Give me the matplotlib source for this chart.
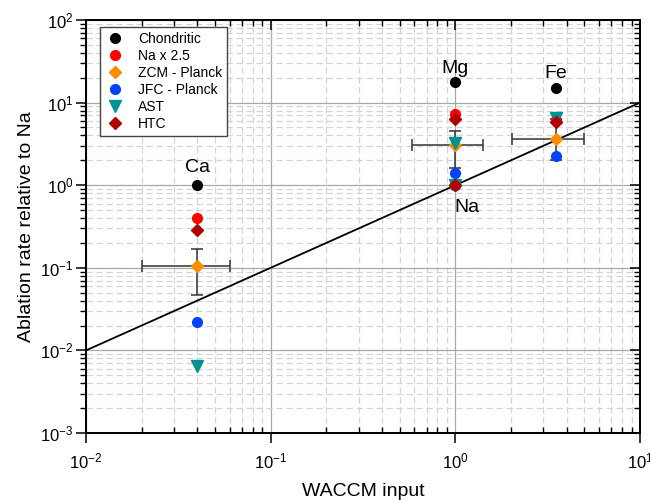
import matplotlib
matplotlib.use("Agg")
import matplotlib.pyplot as plt
import numpy as np
from matplotlib.ticker import LogLocator, NullFormatter, FixedLocator

plt.rcParams['font.family'] = ['Liberation Sans', 'DejaVu Sans']
plt.rcParams['mathtext.fontset'] = 'custom'
plt.rcParams['mathtext.rm'] = 'Liberation Sans'
plt.rcParams['mathtext.it'] = 'Liberation Sans:italic'
plt.rcParams['mathtext.bf'] = 'Liberation Sans:bold'

# ---- data ----
elements = ['Na', 'Mg', 'Fe', 'Ca']
waccm = [1.0, 1.0, 3.5, 0.04]
chondritic = [1.0, 17.9, 15.1, 1.0]
na_x25 = [1.0, 7.3, 6.2, 0.40]
zcm = [1.0, 3.04, 3.66, 0.106]
jfc = [1.0, 1.42, 2.28, 0.0223]
ast = [1.0, 3.27, 6.5, 0.0065]
htc = [1.0, 6.4, 5.8, 0.29]

# ZCM error ranges (Mg, Fe, Ca)
err_x = [1.0, 3.5, 0.04]
err_y = [3.04, 3.66, 0.106]
err_ylo = [1.6, 2.02, 0.047]
err_yhi = [4.57, 6.3, 0.167]
err_xlo = [0.58, 2.02, 0.02]
err_xhi = [1.42, 4.99, 0.06]

label_x = [1.16, 1.0, 3.5, 0.04]
label_y = [0.473, 22.6, 20.0, 1.46]

xticks = [0.01, 0.1, 1, 10]
xticklabels = [r'$10^{-2}$', r'$10^{-1}$', r'$10^{0}$', r'$10^{1}$']
yticks = [0.001, 0.01, 0.1, 1, 10, 100]
yticklabels = [r'$10^{-3}$', r'$10^{-2}$', r'$10^{-1}$', r'$10^{0}$', r'$10^{1}$', r'$10^{2}$']

fig = plt.figure(figsize=(6.5, 5.01), dpi=100)
ax = fig.add_axes([86/650, 68/501, 554/650, 413/501])
ax.set_xscale('log')
ax.set_yscale('log')
ax.set_xlim(0.01, 10)
ax.set_ylim(0.001, 100)

ax.grid(True, which='major', color='#a8a8a8', linewidth=0.9, linestyle='-', zorder=0)
ax.grid(True, which='minor', color='#d4d4d4', linewidth=0.9, linestyle=(0, (5, 3)), zorder=0)
ax.set_axisbelow(True)

# 1:1 line
line_x = np.array([0.01, 10])
ax.plot(line_x, line_x, color='black', linewidth=1.3, zorder=2)

# error bars
ex = np.array(err_x); ey = np.array(err_y)
ax.errorbar(ex, ey,
            yerr=[ey - np.array(err_ylo), np.array(err_yhi) - ey],
            xerr=[ex - np.array(err_xlo), np.array(err_xhi) - ex],
            fmt='none', ecolor='#333333', elinewidth=1.1, capsize=4, capthick=1.1, zorder=3)

ms = 7
ax.plot(waccm, chondritic, 'o', color='black', ms=ms, ls='none', label='Chondritic', zorder=4)
ax.plot(waccm, na_x25, 'o', color='#ff0000', ms=ms, ls='none', label='Na x 2.5', zorder=4)
ax.plot(waccm, zcm, 'D', color='#ff8c00', ms=ms-0.8, ls='none', label='ZCM - Planck', zorder=4)
ax.plot(waccm, jfc, 'o', color='#0042ff', ms=ms, ls='none', label='JFC - Planck', zorder=4)
ax.plot(waccm, ast, 'v', color='#009292', ms=ms+1, ls='none', label='AST', zorder=4)
ax.plot(waccm, htc, 'D', color='#b00000', ms=ms-0.8, ls='none', label='HTC', zorder=4)

for name, lx, ly in zip(elements, label_x, label_y):
    ax.text(lx, ly, name, fontsize=14, ha='center', va='baseline', zorder=5)

ax.xaxis.set_major_locator(FixedLocator(xticks))
ax.set_xticklabels(xticklabels)
ax.yaxis.set_major_locator(FixedLocator(yticks))
ax.set_yticklabels(yticklabels)
ax.xaxis.set_minor_locator(LogLocator(base=10, subs=np.arange(2, 10)))
ax.yaxis.set_minor_locator(LogLocator(base=10, subs=np.arange(2, 10)))
ax.xaxis.set_minor_formatter(NullFormatter())
ax.yaxis.set_minor_formatter(NullFormatter())

ax.tick_params(axis='x', which='major', direction='out', length=7, width=1.1, labelsize=12, pad=6)
ax.tick_params(axis='x', which='minor', direction='in', length=4.5, width=1.0)
ax.tick_params(axis='y', which='major', direction='out', length=7, width=1.1, labelsize=12, pad=2)
ax.tick_params(axis='y', which='minor', direction='out', length=4, width=1.0)
for s in ax.spines.values():
    s.set_linewidth(1.3)

# right and top ticks pointing inward
axr = ax.twinx()
axr.set_yscale('log'); axr.set_ylim(ax.get_ylim())
axr.yaxis.set_major_locator(FixedLocator(yticks))
axr.yaxis.set_minor_locator(LogLocator(base=10, subs=np.arange(2, 10)))
axr.tick_params(axis='y', which='both', direction='in', labelright=False)
axr.tick_params(axis='y', which='major', length=7, width=1.1)
axr.tick_params(axis='y', which='minor', length=4.5, width=1.0)
axt = ax.twiny()
axt.set_xscale('log'); axt.set_xlim(ax.get_xlim())
axt.xaxis.set_major_locator(FixedLocator(xticks))
axt.xaxis.set_minor_locator(LogLocator(base=10, subs=np.arange(2, 10)))
axt.tick_params(axis='x', which='both', direction='in', labeltop=False)
axt.tick_params(axis='x', which='major', length=7, width=1.1)
axt.tick_params(axis='x', which='minor', length=4.5, width=1.0)
for a in (axr, axt):
    a.yaxis.set_minor_formatter(NullFormatter())
    a.xaxis.set_minor_formatter(NullFormatter())
    for s in a.spines.values():
        s.set_linewidth(1.3)

ax.set_xlabel('WACCM input', fontsize=14, labelpad=9)
ax.set_ylabel('Ablation rate relative to Na', fontsize=14, labelpad=4)

leg = ax.legend(loc='upper left', bbox_to_anchor=(0.025, 0.983), borderaxespad=0,
                fontsize=10, frameon=True,
                fancybox=False, edgecolor='#444444', framealpha=1, borderpad=0.35,
                labelspacing=0.22, handletextpad=0.9, handlelength=1.5, numpoints=1)
leg.get_frame().set_linewidth(1.0)
leg.set_zorder(10)

fig.savefig('out.png', dpi=100)
